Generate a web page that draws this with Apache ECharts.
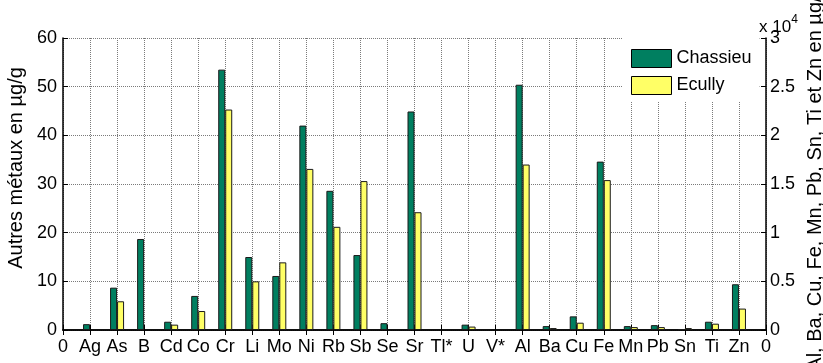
<!DOCTYPE html>
<html>
<head>
<meta charset="utf-8">
<script src="https://cdn.jsdelivr.net/npm/echarts@6/dist/echarts.min.js"></script>
<style>
html,body{margin:0;padding:0;background:#fff;}
#chart{width:823px;height:363px;}
</style>
</head>
<body>
<div id="chart"></div>
<script>
// x tick labels (positions 0..26)
const categories = ['0','Ag','As','B','Cd','Co','Cr','Li','Mo','Ni','Rb','Sb','Se','Sr','Tl*','U','V*','Al','Ba','Cu','Fe','Mn','Pb','Sn','Ti','Zn','0'];
// other metals (left axis, µg/g): Ag..V*
const otherMetals = ['Ag','As','B','Cd','Co','Cr','Li','Mo','Ni','Rb','Sb','Se','Sr','Tl*','U','V*'];
const chassieuOther = [1.2, 8.7, 18.7, 1.7, 7.0, 53.5, 15.0, 11.1, 42.0, 28.6, 15.4, 1.4, 44.9, null, 1.1, null];
const ecullyOther   = [null, 5.9, null, 1.1, 3.9, 45.3, 10.0, 13.9, 33.1, 21.2, 30.6, null, 24.2, null, 0.7, null];
// major metals (right axis, µg/g): Al..Zn
const majorMetals = ['Al','Ba','Cu','Fe','Mn','Pb','Sn','Ti','Zn'];
const chassieuMajor = [25200, 400, 1400, 17300, 400, 500, 100, 850, 4700];
const ecullyMajor   = [17000, 200, 750, 15400, 300, 300, 200, 650, 2200];
// axis ticks
const leftTicks = [0, 10, 20, 30, 40, 50, 60];
const rightTicks = [0, 5000, 10000, 15000, 20000, 25000, 30000];

function place(names, values) {
  const arr = categories.map(() => null);
  names.forEach((n, i) => {
    const idx = categories.indexOf(n, 1);
    arr[idx] = values[i];
  });
  return arr;
}

const FONT = 'Liberation Sans, Arial, Helvetica, sans-serif';
const GREEN = '#007f60';
const YELLOW = '#ffff66';
const gridLine = {show: true, lineStyle: {color: '#7a7a7a', width: 1, type: [1, 1]}};
const barStyle = (c) => ({color: c, borderColor: '#1a1a1a', borderWidth: 1});

const chart = echarts.init(document.getElementById('chart'), null, {renderer: 'canvas'});
chart.setOption({
  animation: false,
  backgroundColor: '#fff',
  textStyle: {fontFamily: FONT},
  grid: {left: 63, right: 57, top: 38, bottom: 33, containLabel: false, outerBoundsMode: 'none'},
  legend: {
    data: ['Chassieu', 'Ecully'],
    orient: 'vertical',
    left: 623, top: 38,
    padding: [11, 8, 7, 8],
    itemWidth: 40, itemHeight: 18, itemGap: 8,
    backgroundColor: '#fff',
    borderWidth: 0,
    icon: 'rect',
    itemStyle: {borderColor: '#000', borderWidth: 1},
    textStyle: {fontSize: 18, color: '#000', fontFamily: FONT},
    selectedMode: false
  },
  xAxis: [{
    type: 'category', data: categories, boundaryGap: false, position: 'bottom',
    axisLine: {lineStyle: {color: '#000', width: 1.5}},
    axisTick: {inside: true, length: 5, interval: 0, lineStyle: {color: '#000'}},
    axisLabel: {interval: 0, fontSize: 18, color: '#000', margin: 8, hideOverlap: false, fontFamily: FONT},
    splitLine: Object.assign({interval: 0}, gridLine)
  }, {
    type: 'category', data: categories, boundaryGap: false, position: 'top',
    axisLine: {lineStyle: {color: '#000', width: 1.5}},
    axisTick: {inside: true, length: 5, interval: 0, lineStyle: {color: '#000'}},
    axisLabel: {show: false},
    splitLine: {show: false}
  }],
  yAxis: [{
    type: 'value', min: leftTicks[0], max: leftTicks[leftTicks.length - 1], interval: leftTicks[1] - leftTicks[0],
    position: 'left',
    name: 'Autres métaux en µg/g', nameLocation: 'middle', nameRotate: 90, nameGap: 34,
    nameTextStyle: {fontSize: 20, color: '#000', fontFamily: FONT, padding: [0, 0, 0, 32]},
    axisLine: {show: true, lineStyle: {color: '#000', width: 1.5}},
    axisTick: {show: true, inside: true, length: 5, lineStyle: {color: '#000'}},
    axisLabel: {fontSize: 18, color: '#000', margin: 6, fontFamily: FONT},
    splitLine: gridLine
  }, {
    type: 'value', min: rightTicks[0], max: rightTicks[rightTicks.length - 1], interval: rightTicks[1] - rightTicks[0],
    position: 'right',
    name: 'Al, Ba, Cu, Fe, Mn, Pb, Sn, Ti et Zn en µg/g', nameLocation: 'middle', nameRotate: 90, nameGap: 32,
    nameTextStyle: {fontSize: 20, color: '#000', fontFamily: FONT, padding: [0, 0, 0, 12]},
    axisLine: {show: true, lineStyle: {color: '#000', width: 1.5}},
    axisTick: {show: true, inside: true, length: 5, lineStyle: {color: '#000'}},
    axisLabel: {fontSize: 18, color: '#000', margin: 4, fontFamily: FONT,
      formatter: (v) => String(v / 10000)},
    splitLine: {show: false}
  }],
  graphic: [{
    type: 'text', left: 759, top: 14, z: 1,
    style: {
      text: '{a|x 10}{s|4}',
      rich: {
        a: {fontSize: 17, fill: '#000', fontFamily: FONT, padding: [8, 0, 0, 0]},
        s: {fontSize: 12, fill: '#000', fontFamily: FONT, padding: [0, 0, 6, 0]}
      }
    }
  }],
  series: [{
    name: 'Chassieu', type: 'bar', xAxisIndex: 0, yAxisIndex: 0,
    data: place(otherMetals, chassieuOther), barWidth: 7, barGap: '0%',
    itemStyle: barStyle(GREEN)
  }, {
    name: 'Ecully', type: 'bar', xAxisIndex: 0, yAxisIndex: 0,
    data: place(otherMetals, ecullyOther), barWidth: 7, barGap: '0%',
    itemStyle: barStyle(YELLOW)
  }, {
    name: 'Chassieu', type: 'bar', xAxisIndex: 1, yAxisIndex: 1,
    data: place(majorMetals, chassieuMajor), barWidth: 7, barGap: '0%',
    itemStyle: barStyle(GREEN)
  }, {
    name: 'Ecully', type: 'bar', xAxisIndex: 1, yAxisIndex: 1,
    data: place(majorMetals, ecullyMajor), barWidth: 7, barGap: '0%',
    itemStyle: barStyle(YELLOW)
  }]
});
</script>
</body>
</html>
